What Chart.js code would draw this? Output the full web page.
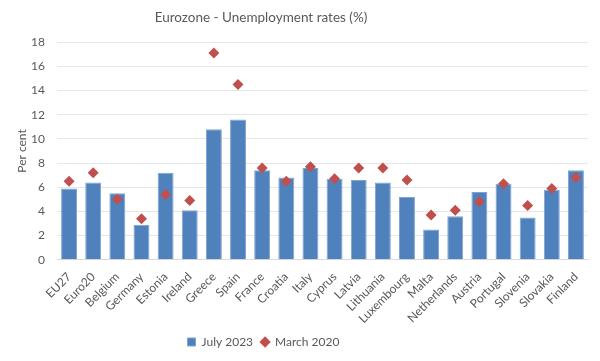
<!DOCTYPE html>
<html><head><meta charset="utf-8">
<script src="https://cdn.jsdelivr.net/npm/chart.js@4/dist/chart.umd.min.js"></script>
<style>html,body{margin:0;padding:0;background:#fff}#wrap{width:600px;height:361px}</style>
</head><body><div id="wrap"><canvas id="c"></canvas></div>
<script>
const categories = ["EU27","Euro20","Belgium","Germany","Estonia","Ireland","Greece","Spain","France","Croatia","Italy","Cyprus","Latvia","Lithuania","Luxembourg","Malta","Netherlands","Austria","Portugal","Slovenia","Slovakia","Finland"];
const july2023 = [5.9,6.4,5.5,2.9,7.2,4.1,10.8,11.6,7.4,6.8,7.6,6.7,6.6,6.4,5.2,2.5,3.6,5.6,6.3,3.5,5.8,7.4];
const march2020 = [6.5,7.2,5.0,3.4,5.4,4.9,17.1,14.5,7.6,6.5,7.7,6.7,7.6,7.6,6.6,3.7,4.1,4.8,6.3,4.5,5.9,6.8];
const yTicks = [0,2,4,6,8,10,12,14,16,18];

Chart.defaults.font.family = "Lato, 'Open Sans', sans-serif";
Chart.defaults.color = "#595959";

// Title and legend in the reference are centred a little left of the canvas centre
const shiftBoxes = {
  id: 'shiftBoxes',
  afterLayout(chart) {
    if (chart.titleBlock) { chart.titleBlock.left = 0; chart.titleBlock.right = 522; }
    if (chart.legend) { chart.legend.left = 0; chart.legend.right = 527; }
  }
};

new Chart(document.getElementById('c'), {
  type: 'bar',
  data: {
    labels: categories,
    datasets: [
      {label: 'July 2023', data: july2023, backgroundColor: '#4F81BD', borderColor: '#7FA3D0', borderWidth: 1,
       categoryPercentage: 1, barPercentage: 0.66, pointStyle: 'rect', order: 2},
      {label: 'March 2020', type: 'line', data: march2020, showLine: false, pointStyle: 'rectRot',
       pointRadius: 5.5, pointHoverRadius: 5.5, backgroundColor: '#C0504D', borderColor: '#C0504D', borderWidth: 0, order: 1}
    ]
  },
  plugins: [shiftBoxes],
  options: {
    responsive: true, maintainAspectRatio: false, animation: false,
    layout: {padding: {left: 15, right: 12, top: 4, bottom: 3}},
    plugins: {
      title: {display: true, text: 'Eurozone - Unemployment rates (%)', font: {size: 13.5, weight: 'normal'}, color: '#595959', padding: {top: 6, bottom: 16}},
      legend: {position: 'bottom', labels: {usePointStyle: true, boxWidth: 8, boxHeight: 8, font: {size: 12}, padding: 8,
               sort: (a, b) => a.datasetIndex - b.datasetIndex}},
      tooltip: {enabled: false}
    },
    scales: {
      x: {grid: {display: false}, border: {color: '#d9d9d9'},
          afterFit: s => { s.paddingLeft = 0; s.paddingRight = 0; },
          ticks: {autoSkip: false, maxRotation: 45, minRotation: 45, font: {size: 12}, padding: 2}},
      y: {min: 0, max: 18, afterBuildTicks: a => { a.ticks = yTicks.map(v => ({value: v})); },
          afterFit: s => { s.width = 42; },
          grid: {color: '#e6e6e6', lineWidth: 1, drawTicks: false}, border: {display: false},
          ticks: {font: {size: 12}, padding: 12},
          title: {display: true, text: 'Per cent', font: {size: 12}, padding: {top: 0, bottom: 4}}}
    }
  }
});
</script></body></html>
